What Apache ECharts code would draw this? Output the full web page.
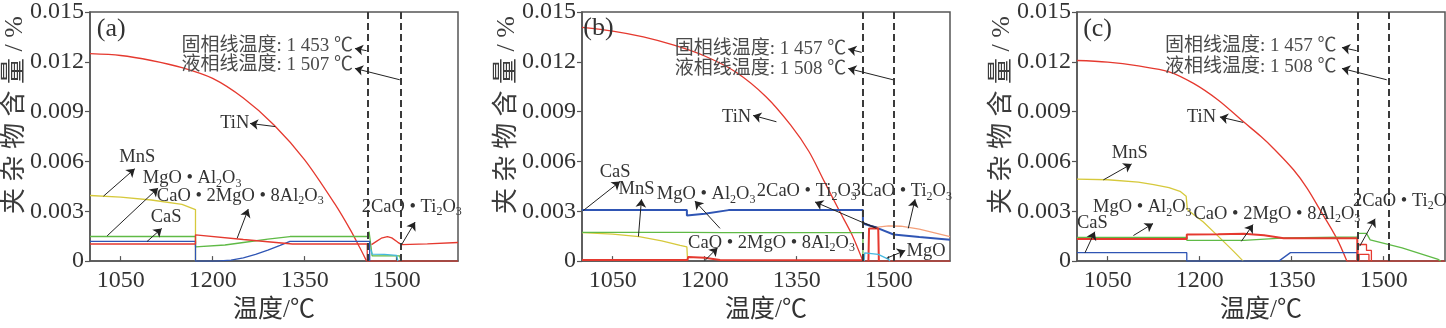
<!DOCTYPE html>
<html>
<head>
<meta charset="utf-8">
<script src="https://cdn.jsdelivr.net/npm/echarts@6/dist/echarts.min.js"></script>
<style>
html, body { margin: 0; padding: 0; background: #fff; }
#chart { width: 1446px; height: 328px; }
</style>
</head>
<body>
<div id="chart"></div>
<script>
// ---- axes ----
const xTicks = [1050, 1200, 1350, 1500];
const yTicks = [0, 0.003, 0.006, 0.009, 0.012, 0.015];
const panelTags = ['(a)', '(b)', '(c)'];
const solidusT = [1453, 1457, 1457];
const liquidusT = [1507, 1508, 1508];

// ---- panel (a) ----
const tinA = [[1000,0.01249],[1050,0.01238],[1100,0.01208],[1150,0.01165],[1200,0.0110],[1250,0.00982],[1300,0.0082],[1350,0.0061],[1400,0.0034],[1425,0.00185],[1440,0.0008],[1451,0]];
const tinTailA = [[1451,0],[1600,0]];
const mnsA = [[1000,0.00395],[1050,0.00385],[1100,0.00368],[1150,0.00342],[1172,0.0031],[1172,0]];
const mgoAlA = [[1000,0.00148],[1172,0.00148],[1172,0.00086],[1220,0.00097],[1250,0.00112],[1290,0.00132],[1326,0.00148],[1453,0.00148],[1455,0.00178],[1458,0.0017],[1460,0.00031],[1505,0.00031],[1507,0]];
const casA = [[1000,0.00119],[1172,0.00119],[1172,0],[1206,0],[1230,0.00006],[1250,0.0002],[1270,0.0004],[1290,0.00066],[1310,0.00095],[1326,0.00119],[1456,0.00119],[1456,0]];
const cao2mgoA = [[1000,0.00103],[1172,0.00103],[1172,0.00158],[1250,0.0013],[1330,0.00103],[1452,0.00103],[1452,0]];
const ti2o3A = [[1459,0.00099],[1467,0.00119],[1475,0.00138],[1485,0.00148],[1492,0.0014],[1502,0.00113],[1508,0.00099],[1550,0.00104],[1600,0.00112]];
const mgoA = [[1458,0.0007],[1460,0.00042],[1480,0.0004],[1500,0.00035],[1502,0]];

// ---- panel (b) ----
const tinB = [[1000,0.01407],[1050,0.01385],[1100,0.0135],[1150,0.0130],[1200,0.01235],[1250,0.0114],[1300,0.0099],[1340,0.0082],[1370,0.0066],[1395,0.0048],[1420,0.0030],[1440,0.0016],[1458,0]];
const tinTailB = [[1458,0],[1600,0]];
const casB = [[1000,0.00307],[1171,0.00307],[1171,0.00274],[1200,0.00285],[1239,0.00307],[1458,0.00307],[1458,0.00226],[1483,0.00197],[1485,0.00185],[1508,0.0016],[1550,0.00145],[1600,0.00128]];
const mnsB = [[1000,0.00171],[1050,0.00162],[1093,0.00147],[1130,0.00122],[1160,0.00094],[1171,0.00085],[1172,0.0001]];
const mgoAlB = [[1000,0.00173],[1172,0.00173],[1173,0.00162],[1228,0.00172],[1458,0.00172],[1458,0]];
const cao2mgoB = [[1000,0.00006],[1172,0.00006],[1173,0.00025],[1200,0.0002],[1225,0.00007],[1458,0.00005]];
const ti2o3B = [[1459,0.0023],[1470,0.00215],[1483,0.002]];
const oxideStepB = [[1467,0],[1468,0.00197],[1483,0.00197],[1484,0]];
const ca3ti2o3B = [[1482,0.00205],[1500,0.00212],[1520,0.0021],[1550,0.00192],[1575,0.0017],[1600,0.00148]];
const mgoB = [[1460,0],[1461,0.0005],[1483,0.0004],[1500,0.0001],[1502,0]];

// ---- panel (c) ----
const tinC = [[1000,0.01208],[1050,0.01198],[1100,0.01175],[1150,0.0114],[1190,0.0107],[1230,0.0097],[1271,0.0084],[1300,0.0075],[1320,0.0068],[1353,0.0055],[1375,0.0044],[1396,0.0031],[1423,0.0014],[1440,0]];
const tinTailC = [[1440,0],[1600,0]];
const mnsC = [[1000,0.00494],[1050,0.0049],[1100,0.00475],[1125,0.0046],[1150,0.00442],[1168,0.0042],[1178,0.0039],[1180,0.0031],[1190,0.0028],[1206,0.00235],[1233,0.0014],[1255,0.0006],[1271,0]];
const mgoAlC = [[1000,0.00143],[1179,0.00143],[1179,0.00125],[1272,0.00125],[1340,0.0014],[1457,0.00145],[1458,0.00167],[1472,0.00167],[1478,0.00128],[1530,0.0008],[1589,0.0001],[1593,0]];
const cao2mgoC = [[1000,0.00133],[1179,0.00133],[1179,0.0016],[1230,0.00162],[1272,0.00165],[1305,0.00155],[1337,0.00138],[1457,0.00138],[1457,0]];
const casC = [[1000,0.00051],[1179,0.00051],[1179,0],[1329,0],[1348,0.00051],[1457,0.00051],[1457,0]];
const ti2o3C = [[1458,0],[1458,0.001],[1472,0.001],[1472,0.00064],[1480,0.00064],[1480,0]];
const ti2o3InnerC = [[1460,0],[1460,0.0004],[1476,0.0004],[1476,0]];

// ---- annotations (data coordinates) ----
const labelsA = [
  ['TiN', 1236, 0.00829, 'center'],
  ['MnS', 1077, 0.00625, 'center'],
  ['MgO • Al{s|2}O{s|3}', 1086, 0.00498, 'left'],
  ['CaO • 2MgO • 8Al{s|2}O{s|3}', 1109, 0.00391, 'left'],
  ['CaS', 1124, 0.00263, 'center'],
  ['2CaO • Ti{s|2}O{s|3}', 1443, 0.00327, 'left']
];
const arrowsA = [
  [[1302,0.0081],[1261,0.00829]],
  [[1022,0.00391],[1073,0.00556]],
  [[1028,0.00152],[1111,0.0044]],
  [[1240,0.00138],[1258,0.00313]],
  [[1093,0.00118],[1117,0.00197]],
  [[1508,0.00099],[1530,0.00235]],
  [[1451,0.01267],[1432,0.0128]],
  [[1505,0.01092],[1432,0.0116]]
];
const notesA = [['固相线温度: 1 453 ℃', 1429, 0.01296], ['液相线温度: 1 507 ℃', 1429, 0.01179]];

const labelsB = [
  ['TiN', 1252, 0.00868, 'center'],
  ['CaS', 1054, 0.00537, 'center'],
  ['MnS', 1089, 0.00434, 'center'],
  ['MgO • Al{s|2}O{s|3}', 1122, 0.00401, 'left'],
  ['2CaO • Ti{s|2}O{s|3}', 1285, 0.0042, 'left'],
  ['3CaO • Ti{s|2}O{s|3}', 1440, 0.0042, 'left'],
  ['CaO • 2MgO • 8Al{s|2}O{s|3}', 1173, 0.00109, 'left'],
  ['MgO', 1529, 0.0006, 'left']
];
const arrowsB = [
  [[1317,0.00839],[1279,0.00877]],
  [[1002,0.00304],[1062,0.00479]],
  [[1092,0.00148],[1097,0.00372]],
  [[1225,0.00197],[1184,0.00362]],
  [[1480,0.00197],[1380,0.00356]],
  [[1532,0.00197],[1543,0.00372]],
  [[1200,0.00002],[1221,0.0008]],
  [[1497,0.00018],[1527,0.00064]],
  [[1456,0.01257],[1434,0.01277]],
  [[1507,0.01092],[1434,0.0116]]
];
const notesB = [['固相线温度: 1 457 ℃', 1431, 0.01277], ['液相线温度: 1 508 ℃', 1431, 0.01154]];

const labelsC = [
  ['TiN', 1203, 0.00868, 'center'],
  ['MnS', 1086, 0.00648, 'center'],
  ['MgO • Al{s|2}O{s|3}', 1026, 0.00323, 'left'],
  ['CaS', 1000, 0.00226, 'left'],
  ['CaO • 2MgO • 8Al{s|2}O{s|3}', 1190, 0.00284, 'left'],
  ['2CaO • Ti{s|2}O{s|3}', 1450, 0.00362, 'left']
];
const arrowsC = [
  [[1271,0.00835],[1233,0.00868]],
  [[1043,0.00489],[1089,0.00585]],
  [[1092,0.00154],[1124,0.00226]],
  [[1013,0.0005],[1029,0.00177]],
  [[1268,0.00119],[1287,0.0022]],
  [[1461,0.0009],[1486,0.00255]],
  [[1456,0.01267],[1432,0.01286]],
  [[1505,0.01092],[1432,0.0116]]
];
const notesC = [['固相线温度: 1 457 ℃', 1423, 0.01296], ['液相线温度: 1 508 ℃', 1423, 0.01169]];

const tagPos = [[1011, 0.01395], [1002, 0.01403], [1010, 0.01395]];

// ---- styling ----
const RED = '#e5392f', YELLOW = '#d6c93c', GREEN = '#5fba46', BLUE = '#2f55b4',
      CYAN = '#45b8e0', SALMON = '#f3a07b', NAVY = '#27397a';
const SERIF = "'Liberation Serif', 'Noto Sans CJK SC', serif";
const AXIS_COLOR = '#555';
const TEXT_COLOR = '#333';

const gridLefts = [90, 582, 1077];
const GRID_TOP = 10, GRID_W = 368, GRID_H = 257;

const chart = echarts.init(document.getElementById('chart'), null, { renderer: 'canvas' });

function line(p, data, color, extra) {
  return Object.assign({
    type: 'line', xAxisIndex: p, yAxisIndex: p, data: data,
    symbol: 'none', silent: true, animation: false,
    lineStyle: { color: color, width: 1.3 }, itemStyle: { color: color }
  }, extra || {});
}

function markers(p, arrows) {
  return [
    {
      type: 'line', xAxisIndex: p, yAxisIndex: p, data: [], silent: true, animation: false,
      markLine: {
        silent: true, animation: false, symbol: 'none',
        label: { show: false },
        lineStyle: { color: '#3a3a3a', width: 2, type: [7, 4] },
        data: [{ xAxis: solidusT[p] }, { xAxis: liquidusT[p] }]
      }
    },
    {
      type: 'line', xAxisIndex: p, yAxisIndex: p, data: [], silent: true, animation: false,
      markLine: {
        silent: true, animation: false, symbol: ['none', 'arrow'], symbolSize: 8,
        label: { show: false },
        lineStyle: { color: '#222', width: 1, type: 'solid' },
        data: arrows.map(a => [{ coord: a[0] }, { coord: a[1] }])
      }
    }
  ];
}

const grids = [], xAxes = [], yAxes = [];
for (let p = 0; p < 3; p++) {
  grids.push({ left: gridLefts[p], top: GRID_TOP, width: GRID_W, height: GRID_H,
               show: true, borderColor: AXIS_COLOR, borderWidth: 1.5, backgroundColor: 'transparent' });
  xAxes.push({
    type: 'value', gridIndex: p, min: 1000, max: 1600,
    name: '温度/℃', nameLocation: 'middle', nameGap: 35,
    nameTextStyle: { fontSize: 25, fontFamily: SERIF, color: TEXT_COLOR },
    axisLine: { show: true, lineStyle: { color: AXIS_COLOR, width: 1.5 } },
    axisTick: { show: true, inside: true, length: 5, customValues: xTicks, lineStyle: { color: AXIS_COLOR, width: 1.2 } },
    axisLabel: { customValues: xTicks, fontSize: 24, fontFamily: SERIF, color: TEXT_COLOR, margin: 8,
                 formatter: v => String(v) },
    splitLine: { show: false }
  });
  yAxes.push({
    type: 'value', gridIndex: p, min: yTicks[0], max: yTicks[yTicks.length - 1], interval: 0.003,
    axisLine: { show: true, lineStyle: { color: AXIS_COLOR, width: 1.5 } },
    axisTick: { show: true, inside: false, length: 5, lineStyle: { color: AXIS_COLOR, width: 1.2 } },
    axisLabel: { fontSize: 24, fontFamily: SERIF, color: TEXT_COLOR, margin: 6,
                 formatter: v => (v === 0 ? '0' : v.toFixed(3)) },
    splitLine: { show: false }
  });
}

const series = [
  // (a)
  line(0, tinA, RED, { smooth: 0.3 }), line(0, tinTailA, RED),
  line(0, mnsA, YELLOW), line(0, mgoAlA, GREEN), line(0, casA, BLUE),
  line(0, cao2mgoA, RED), line(0, ti2o3A, RED), line(0, mgoA, CYAN),
  // (b)
  line(1, tinB, RED, { smooth: 0.3 }), line(1, tinTailB, RED),
  line(1, mnsB, YELLOW), line(1, mgoAlB, GREEN), line(1, casB, BLUE, { lineStyle: { color: BLUE, width: 2 } }),
  line(1, cao2mgoB, RED, { lineStyle: { color: RED, width: 2 } }), line(1, ti2o3B, NAVY, { lineStyle: { color: NAVY, width: 1.6 } }),
  line(1, oxideStepB, RED, { lineStyle: { color: RED, width: 2 } }), line(1, ca3ti2o3B, SALMON), line(1, mgoB, CYAN),
  // (c)
  line(2, tinC, RED, { smooth: 0.35 }), line(2, tinTailC, RED),
  line(2, mnsC, YELLOW), line(2, mgoAlC, GREEN), line(2, casC, BLUE),
  line(2, cao2mgoC, RED, { lineStyle: { color: RED, width: 2 } }), line(2, ti2o3C, RED), line(2, ti2o3InnerC, RED)
].concat(markers(0, arrowsA), markers(1, arrowsB), markers(2, arrowsC));

chart.setOption({
  backgroundColor: '#fff',
  animation: false,
  grid: grids, xAxis: xAxes, yAxis: yAxes, series: series
});

// ---- text annotations placed through the axes ----
const richSub = { s: { fontSize: 12, lineHeight: 9, verticalAlign: 'bottom', fontFamily: SERIF, fill: TEXT_COLOR } };
const graphics = [];
const allLabels = [labelsA, labelsB, labelsC];
const allNotes = [notesA, notesB, notesC];
for (let p = 0; p < 3; p++) {
  const toPx = pt => chart.convertToPixel({ xAxisIndex: p, yAxisIndex: p }, pt);
  allLabels[p].forEach(l => {
    const pos = toPx([l[1], l[2]]);
    graphics.push({ type: 'text', x: pos[0], y: pos[1], silent: true, z: 100,
      style: { text: l[0], align: l[3], verticalAlign: 'middle', fontSize: 18.5, lineHeight: 22,
               fontFamily: SERIF, fill: TEXT_COLOR, rich: richSub } });
  });
  allNotes[p].forEach(n => {
    const pos = toPx([n[1], n[2]]);
    graphics.push({ type: 'text', x: pos[0], y: pos[1], silent: true, z: 100,
      style: { text: n[0], align: 'right', verticalAlign: 'middle', fontSize: 19,
               fontFamily: SERIF, fill: '#4a4a4a' } });
  });
  const tp = toPx(tagPos[p]);
  graphics.push({ type: 'text', x: tp[0], y: tp[1], silent: true, z: 100,
    style: { text: panelTags[p], align: 'left', verticalAlign: 'middle', fontSize: 26,
             fontFamily: SERIF, fill: TEXT_COLOR } });
  // y-axis title
  graphics.push({ type: 'text', x: gridLefts[p] - 75, y: 115, rotation: Math.PI / 2, silent: true, z: 100,
    style: { text: '夹 杂 物 含 量 / %', align: 'center', verticalAlign: 'middle', fontSize: 26,
             fontFamily: SERIF, fill: '#3c3c3c' } });
}
chart.setOption({ graphic: graphics });
</script>
</body>
</html>
